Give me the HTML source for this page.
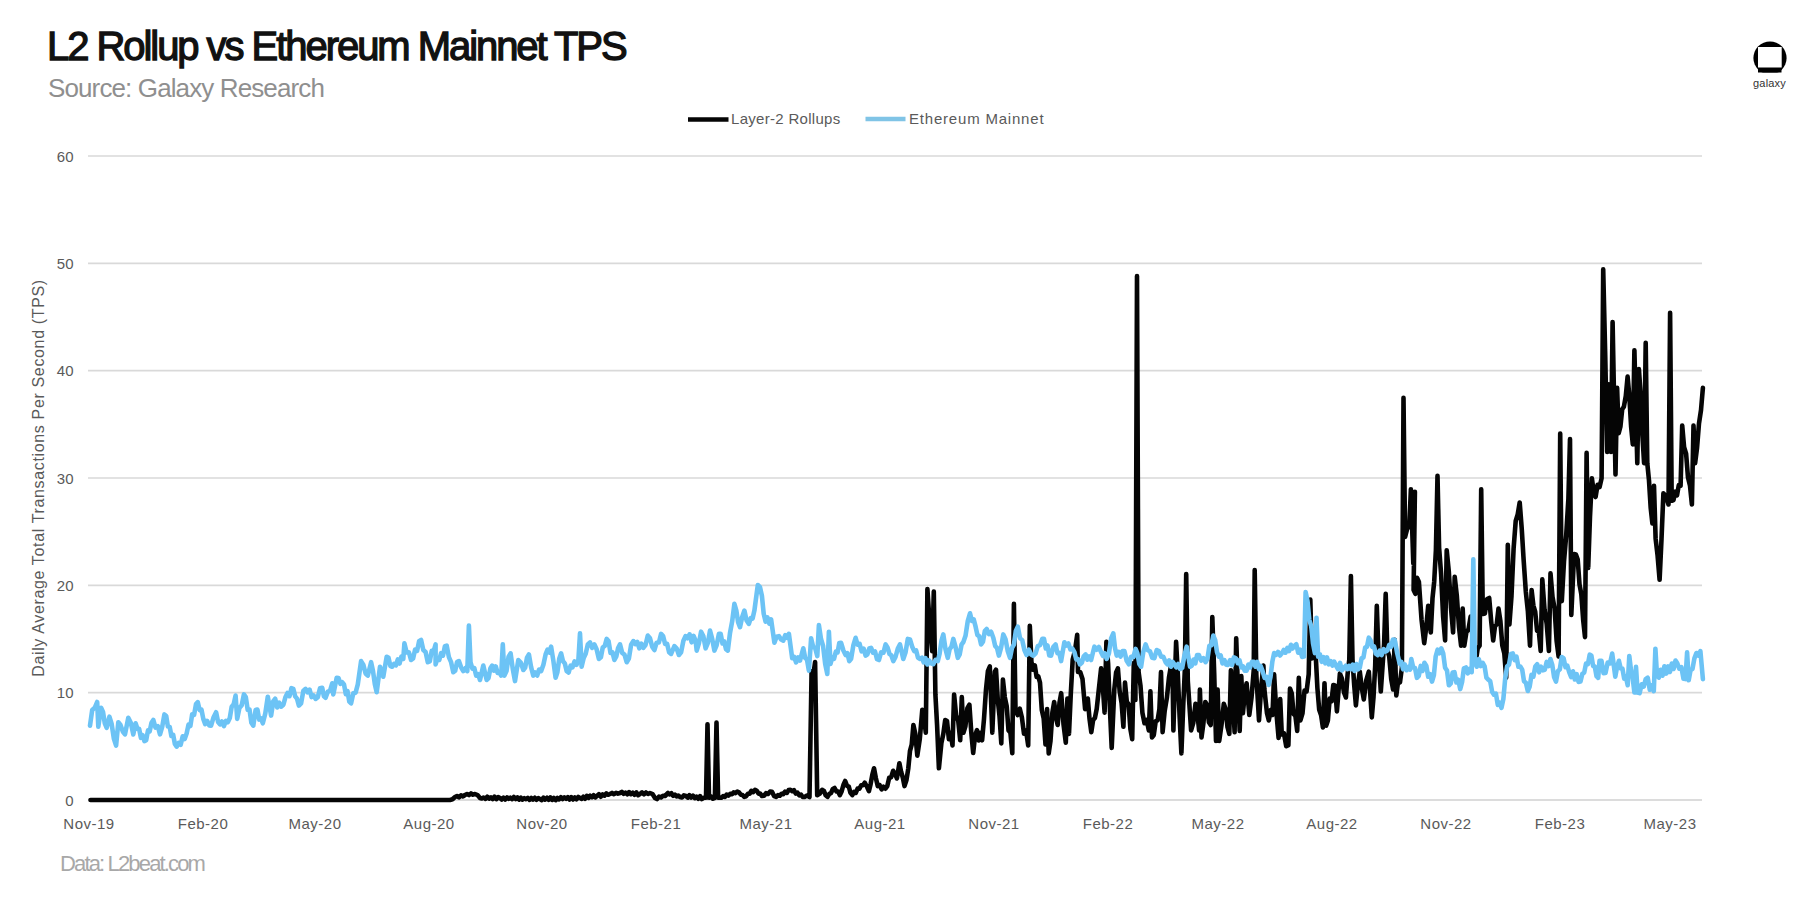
<!DOCTYPE html>
<html><head><meta charset="utf-8">
<style>
html,body{margin:0;padding:0;background:#fff;}
body{width:1800px;height:904px;position:relative;overflow:hidden;font-family:"Liberation Sans",sans-serif;}
#wrap{position:absolute;left:0;top:0;width:1800px;height:904px;}
.t{position:absolute;white-space:nowrap;}
#title{left:47px;top:24px;font-size:40px;font-weight:normal;color:#111;-webkit-text-stroke:1.3px #111;letter-spacing:-2.05px;}
#sub{left:48px;top:73px;font-size:26px;color:#8f8f8f;letter-spacing:-0.88px;}
#data{left:60px;top:851px;font-size:22px;color:#a8a8a8;letter-spacing:-1.85px;}
svg{position:absolute;left:0;top:0;}
</style></head><body><div id="wrap">
<svg width="1800" height="904" viewBox="0 0 1800 904">
<g><line x1="88" y1="692.7" x2="1702" y2="692.7" stroke="#d9d9d9" stroke-width="1.7"/><line x1="88" y1="585.3" x2="1702" y2="585.3" stroke="#d9d9d9" stroke-width="1.7"/><line x1="88" y1="478.0" x2="1702" y2="478.0" stroke="#d9d9d9" stroke-width="1.7"/><line x1="88" y1="370.7" x2="1702" y2="370.7" stroke="#d9d9d9" stroke-width="1.7"/><line x1="88" y1="263.3" x2="1702" y2="263.3" stroke="#d9d9d9" stroke-width="1.7"/><line x1="88" y1="156.0" x2="1702" y2="156.0" stroke="#d9d9d9" stroke-width="1.7"/></g>
<line x1="88" y1="800" x2="1702" y2="800" stroke="#d0d0d0" stroke-width="1.6"/>
<path d="M90.5,800.0 L450.0,800.0 L452.5,799.3 L455.0,797.0 L457.0,796.0 L459.0,797.3 L461.0,795.3 L463.0,796.4 L465.0,795.0 L467.0,794.0 L469.0,795.1 L471.0,793.4 L473.0,794.7 L475.0,794.0 L477.5,795.1 L480.0,798.0 L481.8,798.5 L483.6,797.5 L485.5,798.9 L487.3,796.7 L489.1,798.6 L490.9,797.3 L492.7,799.1 L494.5,796.6 L496.4,799.1 L498.2,797.1 L500.0,798.0 L501.7,799.5 L503.5,797.6 L505.2,799.5 L507.0,797.4 L508.7,798.8 L510.4,797.7 L512.2,799.1 L513.9,797.0 L515.7,799.0 L517.4,797.4 L519.1,799.6 L520.9,797.7 L522.6,799.6 L524.3,798.1 L526.1,799.2 L527.8,798.0 L529.6,799.9 L531.3,797.9 L533.0,799.6 L534.8,797.8 L536.5,799.8 L538.3,798.2 L540.0,799.0 L541.7,800.2 L543.5,797.7 L545.2,799.6 L547.0,797.8 L548.7,799.8 L550.4,797.4 L552.2,799.9 L553.9,797.9 L555.7,800.1 L557.4,798.0 L559.1,799.4 L560.9,797.2 L562.6,799.0 L564.3,797.4 L566.1,798.8 L567.8,797.2 L569.6,799.5 L571.3,797.2 L573.0,799.5 L574.8,797.4 L576.5,799.3 L578.3,797.0 L580.0,798.0 L581.7,798.9 L583.4,796.7 L585.1,798.7 L586.8,795.8 L588.5,797.9 L590.2,795.7 L591.9,797.1 L593.6,795.2 L595.3,797.3 L597.0,796.0 L598.9,794.2 L600.7,796.7 L602.6,794.4 L604.4,795.7 L606.3,793.4 L608.1,794.8 L610.0,794.0 L612.0,792.9 L614.0,794.2 L616.0,792.8 L618.0,793.7 L620.0,793.0 L621.8,791.8 L623.6,793.8 L625.5,792.6 L627.3,794.2 L629.1,792.1 L630.9,794.1 L632.7,792.7 L634.5,794.8 L636.4,792.4 L638.2,795.2 L640.0,794.0 L642.0,792.4 L644.0,794.3 L646.0,792.5 L648.0,794.0 L650.0,793.0 L652.5,794.1 L655.0,798.0 L657.0,799.1 L659.0,796.6 L661.0,797.4 L663.0,795.7 L665.0,796.0 L668.0,793.0 L669.7,794.3 L671.4,793.2 L673.1,795.8 L674.9,794.6 L676.6,796.3 L678.3,795.5 L680.0,797.0 L682.0,797.5 L683.9,795.3 L685.9,796.0 L687.7,797.6 L689.4,795.2 L691.2,797.5 L693.0,795.6 L694.8,798.1 L696.5,796.6 L698.3,798.7 L700.1,796.2 L701.8,799.0 L703.6,797.8 L706.0,797.8 L707.5,724.3 L709.0,797.8 L711.0,796.5 L712.9,798.7 L714.9,797.8 L716.5,722.6 L718.1,797.8 L721.3,797.8 L723.1,796.2 L724.9,797.0 L726.6,794.6 L728.4,795.6 L730.2,793.8 L732.0,794.3 L733.7,792.4 L735.5,793.1 L737.3,791.6 L739.0,792.4 L740.8,794.7 L742.5,795.0 L744.3,796.9 L746.1,796.3 L747.9,793.7 L749.6,793.8 L751.4,790.8 L753.2,792.1 L755.0,789.8 L756.8,790.7 L758.5,793.6 L760.2,793.6 L762.0,796.0 L764.0,795.7 L766.0,793.2 L768.0,794.0 L770.0,791.6 L772.1,791.9 L774.1,796.1 L776.2,796.9 L778.0,795.1 L779.8,795.7 L781.5,793.7 L783.3,794.2 L785.1,791.7 L786.9,792.9 L788.6,790.1 L790.4,789.8 L792.2,791.2 L793.9,790.1 L795.7,793.5 L797.5,792.7 L799.2,795.3 L801.0,794.6 L802.7,797.0 L804.5,796.9 L807.0,795.5 L809.5,797.0 L811.6,671.2 L813.3,675.0 L815.1,662.0 L817.2,795.1 L819.7,793.8 L822.2,789.8 L824.0,791.0 L825.7,795.3 L827.5,796.9 L829.3,793.8 L831.0,793.1 L832.8,789.0 L834.6,788.0 L836.4,791.4 L838.1,791.5 L839.9,795.1 L841.7,791.2 L843.4,785.0 L845.2,781.0 L847.0,785.8 L848.8,786.6 L850.5,792.9 L852.3,795.1 L854.1,792.0 L855.8,792.9 L857.6,788.6 L859.4,788.7 L861.2,785.2 L862.9,785.3 L864.7,782.7 L866.8,786.3 L868.9,791.2 L870.6,784.2 L872.3,774.9 L874.0,768.3 L875.9,778.2 L877.8,786.1 L879.7,785.2 L881.6,789.3 L883.5,786.8 L885.4,788.7 L887.3,786.1 L889.2,777.8 L891.2,777.2 L893.1,770.8 L895.0,773.5 L896.9,778.5 L899.4,763.2 L901.1,771.7 L902.8,777.5 L904.5,786.1 L906.4,780.3 L908.3,768.3 L910.0,750.8 L911.7,744.6 L913.4,725.0 L915.3,733.8 L917.3,755.6 L919.8,738.9 L922.3,709.8 L924.0,716.8 L925.8,732.7 L927.4,589.0 L929.8,625.4 L932.2,651.2 L933.8,591.5 L935.4,694.5 L937.1,725.4 L938.9,768.3 L941.4,742.9 L943.3,734.0 L945.2,720.0 L947.0,721.0 L948.9,739.3 L950.7,733.1 L952.5,745.4 L954.1,694.5 L956.1,715.5 L958.2,720.6 L960.2,740.3 L961.8,697.0 L963.4,732.7 L965.4,726.3 L967.4,708.1 L969.4,704.7 L971.3,732.6 L973.2,753.0 L975.1,735.5 L977.0,730.1 L978.7,740.4 L980.4,732.9 L982.1,740.3 L984.0,718.9 L986.0,689.4 L987.9,671.2 L989.8,666.5 L992.3,732.7 L994.9,671.6 L996.0,669.7 L997.8,699.9 L999.5,715.9 L1001.3,743.4 L1002.9,679.6 L1004.8,697.1 L1006.7,706.2 L1008.5,730.4 L1010.4,732.5 L1012.3,753.3 L1013.9,603.9 L1015.5,709.5 L1017.6,715.0 L1019.8,708.7 L1021.9,717.5 L1024.0,733.7 L1026.1,730.8 L1028.2,745.4 L1029.8,625.9 L1031.4,661.7 L1033.1,669.7 L1034.8,665.3 L1036.6,677.0 L1038.3,676.3 L1040.0,682.6 L1041.8,710.1 L1043.7,718.6 L1045.5,744.5 L1047.1,709.1 L1048.7,753.4 L1050.5,740.9 L1052.4,712.5 L1054.2,702.0 L1056.0,717.7 L1057.7,725.0 L1059.5,702.7 L1061.2,693.2 L1063.5,724.1 L1065.8,742.7 L1067.4,698.5 L1069.0,733.9 L1070.8,693.6 L1072.7,659.6 L1075.0,650.5 L1077.2,634.8 L1078.0,672.0 L1080.2,672.0 L1082.5,679.0 L1085.1,709.1 L1087.8,698.5 L1089.5,718.6 L1091.3,732.1 L1093.1,720.1 L1094.9,718.0 L1096.7,709.0 L1098.4,693.2 L1101.1,668.4 L1102.8,686.4 L1104.6,712.7 L1106.4,641.9 L1108.1,663.1 L1109.9,708.3 L1111.7,748.0 L1114.3,689.6 L1116.1,672.4 L1117.9,668.4 L1119.7,691.7 L1121.6,703.0 L1123.4,726.8 L1125.0,682.6 L1126.8,701.7 L1128.6,704.4 L1130.4,729.2 L1132.2,739.2 L1133.8,663.1 L1135.4,700.0 L1137.0,276.0 L1138.6,672.0 L1140.5,685.8 L1142.4,712.7 L1144.5,723.2 L1146.7,719.8 L1148.8,730.4 L1150.4,691.4 L1152.0,737.4 L1153.8,735.0 L1155.7,721.1 L1157.6,720.4 L1159.4,709.1 L1161.0,672.0 L1162.6,732.1 L1164.7,710.8 L1166.9,697.7 L1169.0,677.3 L1170.8,666.8 L1172.5,668.4 L1173.4,730.4 L1176.1,641.9 L1177.8,673.7 L1179.6,716.5 L1181.4,753.4 L1183.2,706.5 L1184.9,668.4 L1186.2,574.0 L1187.8,680.8 L1191.1,730.4 L1193.3,722.8 L1195.5,703.8 L1197.3,712.3 L1199.1,730.4 L1199.9,689.6 L1201.5,737.4 L1203.4,723.4 L1205.3,702.0 L1207.1,705.0 L1208.9,722.2 L1210.7,725.0 L1212.3,617.0 L1214.2,673.1 L1216.0,741.0 L1217.6,689.6 L1219.2,741.0 L1221.5,725.0 L1223.8,703.8 L1225.6,709.0 L1227.5,727.2 L1229.3,733.9 L1230.9,670.2 L1232.8,697.7 L1234.6,732.1 L1236.2,638.3 L1238.0,690.5 L1239.7,731.0 L1241.3,676.1 L1242.9,713.3 L1244.8,693.7 L1246.6,683.2 L1249.3,715.0 L1251.5,697.8 L1253.7,670.8 L1254.7,570.0 L1256.3,674.3 L1259.0,720.4 L1261.2,687.1 L1263.4,665.5 L1264.3,688.5 L1267.0,713.3 L1268.8,720.4 L1270.7,710.2 L1272.5,715.0 L1274.1,674.3 L1276.3,711.3 L1278.6,738.0 L1280.2,699.1 L1281.8,734.5 L1284.0,733.5 L1286.2,746.2 L1288.4,745.1 L1290.0,688.5 L1291.8,693.6 L1293.6,714.1 L1295.4,715.7 L1297.2,731.0 L1298.8,677.9 L1300.4,720.4 L1302.5,713.3 L1304.5,690.6 L1306.6,691.4 L1308.7,674.3 L1310.3,599.5 L1311.9,658.4 L1313.8,649.4 L1315.6,653.1 L1317.4,688.1 L1319.2,709.7 L1321.1,715.2 L1322.9,727.4 L1324.5,683.2 L1326.1,725.7 L1327.9,720.4 L1329.7,698.6 L1331.5,701.4 L1333.3,685.0 L1334.9,685.5 L1336.9,711.4 L1339.9,673.5 L1341.9,678.7 L1343.9,692.2 L1345.9,697.5 L1347.6,674.3 L1349.3,659.6 L1350.9,576.0 L1352.5,659.6 L1354.2,685.0 L1355.9,705.4 L1357.8,685.2 L1359.8,671.6 L1361.8,688.0 L1363.8,699.4 L1366.3,680.1 L1368.8,671.6 L1371.8,717.4 L1373.5,697.4 L1375.2,665.6 L1376.8,605.8 L1378.4,651.6 L1380.8,691.5 L1384.1,643.7 L1385.7,593.9 L1387.3,649.6 L1389.2,656.4 L1391.2,679.1 L1393.1,689.5 L1394.7,639.7 L1396.3,695.5 L1398.2,680.6 L1400.0,682.2 L1401.9,667.6 L1403.5,397.7 L1405.1,537.0 L1407.2,528.8 L1409.3,526.3 L1410.9,489.2 L1413.3,563.5 L1414.9,491.8 L1413.6,590.0 L1415.4,593.8 L1417.1,577.8 L1418.9,582.0 L1421.5,619.2 L1424.2,643.1 L1426.2,627.7 L1428.2,605.9 L1430.8,632.5 L1432.5,598.3 L1434.2,581.7 L1435.9,550.2 L1437.5,475.9 L1439.1,547.6 L1441.1,574.0 L1443.1,616.4 L1445.1,640.4 L1446.7,550.2 L1448.8,571.5 L1451.0,608.0 L1453.1,632.5 L1454.7,576.7 L1456.8,595.5 L1459.0,627.3 L1461.1,645.7 L1462.7,608.6 L1464.3,645.7 L1466.4,632.2 L1468.5,629.3 L1470.6,616.5 L1472.3,634.6 L1474.0,660.0 L1475.9,660.9 L1477.7,648.3 L1479.6,645.7 L1481.2,489.2 L1482.8,613.9 L1484.9,613.4 L1487.1,599.0 L1489.2,598.0 L1491.2,621.4 L1493.2,640.4 L1495.0,626.1 L1496.7,624.4 L1498.5,608.6 L1500.4,621.2 L1502.3,645.5 L1504.3,653.4 L1506.2,677.6 L1507.8,544.9 L1509.4,624.5 L1511.5,596.0 L1513.6,548.6 L1515.7,521.0 L1517.7,514.4 L1519.7,502.5 L1521.7,528.2 L1523.7,560.8 L1525.8,591.4 L1527.9,611.5 L1530.0,645.7 L1531.6,590.0 L1533.4,605.6 L1535.2,611.7 L1537.1,630.8 L1538.9,632.2 L1540.7,651.0 L1542.3,579.4 L1544.5,609.4 L1546.7,623.8 L1548.9,651.0 L1550.5,573.4 L1552.5,597.0 L1554.6,608.3 L1556.6,640.6 L1558.6,656.5 L1560.2,433.5 L1561.8,601.1 L1564.0,561.4 L1566.2,535.3 L1568.4,498.6 L1570.0,439.1 L1571.3,615.0 L1574.1,554.0 L1575.9,554.4 L1577.7,559.6 L1579.5,584.4 L1581.3,594.2 L1583.2,620.2 L1585.0,637.1 L1586.6,452.9 L1588.2,567.9 L1590.0,516.4 L1591.9,478.2 L1593.8,492.8 L1595.6,497.0 L1597.6,484.7 L1599.6,487.0 L1601.6,478.2 L1603.2,269.4 L1605.2,354.4 L1607.2,451.9 L1608.8,384.2 L1611.0,451.9 L1612.6,322.1 L1615.5,474.5 L1617.1,387.9 L1618.7,433.1 L1620.4,426.7 L1622.2,409.2 L1623.9,406.7 L1625.8,396.0 L1627.6,376.6 L1629.3,395.4 L1631.1,426.6 L1632.8,444.4 L1634.4,350.3 L1637.3,463.2 L1638.9,369.1 L1640.6,393.8 L1642.4,435.2 L1644.1,463.2 L1645.7,342.8 L1647.3,463.2 L1649.0,480.5 L1650.7,508.0 L1652.4,523.4 L1654.0,485.7 L1655.6,538.4 L1657.6,555.8 L1659.6,579.8 L1661.5,539.2 L1663.4,493.3 L1666.0,496.0 L1668.5,504.5 L1670.1,312.7 L1671.7,500.8 L1673.5,500.1 L1675.3,491.7 L1677.0,495.4 L1678.8,485.1 L1680.6,485.7 L1682.2,425.5 L1684.1,447.1 L1686.1,453.6 L1688.0,477.5 L1690.0,485.7 L1691.9,504.5 L1693.5,425.5 L1695.1,463.2 L1697.0,448.2 L1699.0,423.4 L1701.0,410.1 L1702.9,387.9" fill="none" stroke="#050505" stroke-width="4.6" stroke-linejoin="round" stroke-linecap="round"/>
<path d="M90.0,725.6 L92.2,710.0 L94.7,707.8 L97.2,702.0 L98.3,726.7 L101.1,707.8 L103.0,711.9 L104.8,723.3 L106.7,727.8 L109.4,716.7 L111.6,723.6 L113.9,738.8 L116.1,745.6 L118.3,722.2 L120.5,725.0 L122.8,731.5 L125.0,734.4 L128.3,717.8 L130.8,722.7 L133.3,734.4 L135.6,723.3 L137.4,728.7 L139.1,728.7 L140.9,737.8 L142.6,735.1 L144.4,741.1 L146.2,740.2 L148.0,730.3 L149.7,731.3 L151.5,722.7 L153.3,720.0 L155.5,727.6 L157.8,726.2 L160.0,734.4 L162.2,726.9 L164.4,714.4 L166.2,715.9 L167.9,726.6 L169.7,726.9 L171.4,736.0 L173.2,734.8 L174.9,744.0 L176.7,746.7 L178.7,742.8 L180.7,744.8 L182.7,736.3 L184.7,739.0 L186.7,733.3 L188.5,724.6 L190.4,726.0 L192.2,714.2 L194.1,714.8 L196.0,704.1 L197.8,702.2 L199.6,710.1 L201.5,709.7 L203.3,718.9 L205.2,724.1 L207.2,720.9 L209.2,725.4 L211.1,725.6 L213.6,717.2 L216.1,712.2 L218.1,722.0 L220.0,724.4 L221.9,721.5 L223.9,726.1 L225.9,720.8 L227.8,722.2 L229.8,718.0 L231.7,706.7 L233.7,704.3 L235.6,695.6 L237.2,718.9 L239.4,708.0 L241.7,705.3 L243.9,694.4 L245.8,697.1 L247.7,709.8 L249.5,709.5 L251.4,722.8 L253.3,725.6 L255.6,710.0 L257.4,709.5 L259.2,719.6 L261.0,718.4 L262.8,723.3 L265.3,713.4 L267.8,696.7 L271.1,715.6 L273.3,701.1 L275.2,698.8 L277.2,707.4 L279.2,702.6 L281.1,706.7 L283.4,704.7 L285.6,696.7 L287.5,693.0 L289.5,696.2 L291.4,688.2 L293.3,688.9 L295.2,696.4 L297.0,698.7 L298.9,705.6 L301.1,703.4 L303.4,690.7 L305.6,688.9 L307.6,692.3 L309.6,689.6 L311.6,697.1 L313.6,695.4 L315.6,698.9 L317.8,697.1 L320.0,688.3 L322.2,687.8 L323.9,696.3 L325.6,697.8 L327.8,691.7 L330.0,690.9 L332.2,683.3 L333.3,694.4 L336.7,677.8 L338.5,678.0 L340.4,683.8 L342.2,682.2 L344.0,684.4 L345.8,694.1 L347.5,691.1 L349.3,701.6 L351.1,703.3 L353.3,693.2 L355.6,692.7 L357.8,684.4 L361.1,661.1 L363.3,664.6 L365.6,673.5 L367.8,675.6 L371.1,662.2 L373.0,671.0 L374.8,683.9 L376.7,692.2 L380.0,666.7 L383.3,676.7 L386.7,656.7 L388.5,657.8 L390.4,666.1 L392.2,666.7 L394.1,663.8 L395.9,665.4 L397.8,659.4 L399.6,663.5 L401.4,656.5 L403.3,658.9 L404.4,643.3 L406.6,652.4 L408.9,652.3 L411.1,660.0 L413.1,658.4 L415.1,649.5 L417.1,650.9 L419.1,641.3 L421.1,640.0 L423.3,650.0 L425.6,652.0 L427.8,662.2 L429.8,661.4 L431.7,650.8 L433.7,651.1 L435.6,644.4 L435.6,664.4 L437.5,658.2 L439.3,659.9 L441.1,653.1 L443.0,655.6 L444.9,646.2 L446.7,645.6 L448.9,657.1 L451.1,662.2 L453.3,672.2 L455.2,670.7 L457.0,662.1 L458.9,661.1 L461.1,667.3 L463.3,671.1 L465.3,668.3 L467.3,671.1 L468.9,625.6 L470.5,662.2 L472.4,668.6 L474.3,668.0 L476.2,675.7 L478.1,674.1 L480.0,680.0 L483.3,665.6 L486.7,680.0 L488.5,678.1 L490.4,668.3 L492.2,665.6 L494.0,670.6 L495.8,666.5 L497.6,672.8 L499.4,672.3 L501.2,675.6 L502.8,644.4 L504.4,675.6 L506.5,671.1 L508.5,657.0 L510.6,653.3 L512.8,669.0 L515.0,681.1 L518.3,660.0 L520.8,662.6 L523.3,670.0 L525.2,667.5 L527.0,657.6 L528.9,654.4 L531.1,667.1 L533.3,675.6 L535.2,672.5 L537.2,675.5 L539.1,669.5 L541.1,671.1 L543.4,664.7 L545.6,654.4 L547.4,649.7 L549.3,652.5 L551.1,646.7 L553.4,661.0 L555.6,677.8 L557.4,672.3 L559.3,658.4 L561.1,653.3 L563.0,661.2 L564.8,663.4 L566.7,671.1 L568.7,672.5 L570.6,665.6 L572.5,667.2 L574.5,661.4 L576.5,664.8 L578.4,660.0 L580.0,633.3 L581.6,666.7 L583.7,657.9 L585.7,653.8 L587.8,644.4 L590.0,642.4 L592.2,647.8 L594.4,644.4 L596.6,649.3 L598.9,658.9 L600.9,657.3 L602.8,647.3 L604.8,645.9 L606.7,638.9 L608.6,641.3 L610.5,652.9 L612.5,652.4 L614.4,660.0 L616.3,656.5 L618.1,648.1 L620.0,644.4 L622.2,652.9 L624.5,654.6 L626.7,662.2 L628.9,658.5 L631.1,644.8 L633.3,641.1 L635.3,644.1 L637.3,641.9 L639.3,648.4 L641.3,643.6 L643.3,647.8 L645.5,645.0 L647.8,635.6 L650.0,638.3 L652.2,646.7 L654.4,650.0 L656.6,642.7 L658.9,642.5 L661.1,633.9 L663.1,636.0 L665.1,644.0 L667.1,643.7 L669.1,652.2 L671.1,653.9 L674.4,646.1 L676.6,648.3 L678.9,655.0 L681.1,652.3 L683.4,640.8 L685.6,636.1 L687.6,638.2 L689.6,634.3 L691.6,642.3 L693.6,635.9 L695.6,640.6 L696.7,650.6 L698.9,643.4 L701.1,631.7 L703.4,636.3 L705.6,648.3 L707.8,643.1 L710.0,630.6 L712.2,638.9 L714.4,650.6 L716.6,645.4 L718.9,633.9 L720.7,633.9 L722.5,643.5 L724.2,641.4 L726.0,649.2 L727.8,650.6 L730.0,633.0 L732.2,621.2 L734.4,603.9 L736.3,610.3 L738.1,622.1 L740.0,627.2 L742.2,617.0 L744.4,610.6 L746.6,620.5 L748.9,623.9 L750.7,618.2 L752.6,618.6 L754.4,610.6 L757.8,585.0 L760.0,587.2 L761.9,595.7 L763.7,613.8 L765.6,621.7 L767.4,617.4 L769.3,623.7 L771.1,619.4 L774.4,642.8 L776.6,636.8 L778.9,636.1 L781.1,639.5 L783.3,640.6 L785.2,635.2 L787.0,637.7 L788.9,633.9 L792.2,658.3 L794.2,656.9 L796.1,662.4 L798.0,657.5 L800.0,660.6 L803.3,648.3 L805.2,658.0 L807.0,659.5 L808.9,670.6 L811.1,638.3 L813.2,647.0 L815.2,648.1 L817.3,656.1 L818.9,625.0 L821.0,639.0 L823.1,646.0 L825.2,664.1 L827.3,673.9 L828.9,631.7 L830.5,663.9 L832.3,657.2 L834.0,658.9 L835.8,651.7 L837.6,652.4 L839.3,643.0 L841.1,642.8 L843.4,650.5 L845.6,655.0 L847.4,653.1 L849.3,661.2 L851.1,658.9 L853.4,645.1 L855.6,637.8 L857.6,644.7 L859.6,643.8 L861.6,651.3 L863.6,648.6 L865.6,655.6 L867.4,654.3 L869.3,648.5 L871.1,647.8 L873.0,652.7 L875.0,651.4 L877.0,659.2 L878.9,660.0 L881.1,652.4 L883.4,652.8 L885.6,644.4 L887.5,647.4 L889.5,654.0 L891.4,655.4 L893.3,661.1 L895.5,657.0 L897.8,648.6 L900.0,644.4 L903.3,658.9 L905.5,652.6 L907.8,638.9 L910.0,639.4 L912.2,646.7 L914.2,651.1 L916.1,650.3 L918.0,657.8 L920.0,658.9 L921.9,657.7 L923.7,662.4 L925.5,658.2 L927.4,664.5 L929.2,660.5 L931.1,663.3 L933.3,664.2 L935.6,659.8 L937.8,661.1 L939.6,653.7 L941.5,640.7 L943.3,634.4 L945.5,649.1 L947.8,657.8 L949.6,649.3 L951.5,646.6 L953.3,638.9 L955.5,646.7 L957.8,657.8 L959.6,654.7 L961.5,644.7 L963.3,642.2 L965.5,635.8 L967.8,620.8 L970.0,613.3 L971.9,621.0 L973.7,619.4 L975.6,626.7 L977.4,634.9 L979.3,636.4 L981.1,644.4 L983.0,641.7 L984.8,631.1 L986.7,628.9 L988.9,634.1 L991.1,631.8 L993.3,637.8 L995.2,646.1 L997.0,647.9 L998.9,655.6 L1001.1,647.6 L1003.3,634.4 L1005.5,639.2 L1007.8,651.3 L1010.0,657.8 L1012.0,647.8 L1013.9,644.5 L1015.8,631.0 L1017.8,626.7 L1020.0,638.1 L1022.2,640.1 L1024.4,650.0 L1026.6,655.0 L1028.9,649.7 L1031.1,654.4 L1033.3,655.7 L1035.6,653.3 L1037.8,646.1 L1040.0,645.2 L1042.2,638.9 L1044.0,638.9 L1045.8,648.5 L1047.5,645.4 L1049.3,655.5 L1051.1,655.6 L1053.3,647.1 L1055.6,644.4 L1057.4,653.1 L1059.3,652.9 L1061.1,661.1 L1064.4,642.2 L1066.4,645.6 L1068.4,643.5 L1070.4,649.4 L1072.4,648.7 L1074.4,652.2 L1076.3,659.5 L1078.1,659.1 L1080.0,664.4 L1081.9,662.5 L1083.7,656.3 L1085.6,654.4 L1087.4,659.7 L1089.3,656.5 L1091.1,660.0 L1094.4,646.7 L1096.6,649.7 L1098.9,647.0 L1101.1,652.2 L1103.0,655.9 L1104.8,653.3 L1106.7,658.9 L1108.9,653.3 L1111.1,638.5 L1113.3,633.3 L1115.0,648.1 L1116.7,655.6 L1118.6,651.8 L1120.6,656.6 L1122.5,651.0 L1124.4,651.1 L1126.7,660.9 L1128.9,664.4 L1131.1,656.7 L1133.4,657.1 L1135.6,648.9 L1137.4,653.4 L1139.3,663.9 L1141.1,666.7 L1143.3,651.9 L1145.6,644.4 L1147.8,650.2 L1150.0,651.3 L1152.2,657.8 L1154.4,658.2 L1156.7,650.0 L1158.9,651.1 L1161.1,656.6 L1163.4,656.9 L1165.6,662.2 L1167.4,664.4 L1169.1,660.3 L1170.9,666.7 L1172.6,661.8 L1174.4,664.4 L1176.4,667.4 L1178.3,663.9 L1180.2,669.0 L1182.2,667.8 L1184.5,655.0 L1186.7,646.7 L1190.0,666.7 L1191.8,665.7 L1193.6,659.5 L1195.3,663.4 L1197.1,655.1 L1198.9,655.0 L1201.1,660.5 L1203.4,658.2 L1205.6,662.2 L1207.5,658.5 L1209.4,645.7 L1211.4,645.2 L1213.3,635.6 L1215.2,640.1 L1217.0,652.1 L1218.9,656.7 L1220.7,655.5 L1222.5,663.5 L1224.4,660.1 L1226.2,664.7 L1228.0,664.9 L1230.0,660.1 L1232.0,665.2 L1233.9,657.4 L1235.9,658.3 L1236.0,658.4 L1237.8,663.2 L1239.5,660.3 L1241.3,667.5 L1243.0,666.5 L1244.8,670.8 L1246.6,670.7 L1248.4,664.5 L1250.1,667.4 L1251.9,661.9 L1253.7,661.9 L1255.5,666.7 L1257.2,661.8 L1259.0,669.2 L1260.7,666.0 L1262.5,670.8 L1264.6,677.8 L1266.6,676.9 L1268.7,685.0 L1270.5,677.1 L1272.3,661.9 L1274.1,653.1 L1276.1,654.8 L1278.0,651.9 L1280.0,655.5 L1282.0,653.1 L1283.8,649.9 L1285.5,652.7 L1287.3,648.0 L1289.1,651.0 L1290.9,644.8 L1292.6,648.5 L1294.4,646.0 L1296.3,644.3 L1298.2,652.7 L1300.2,649.6 L1302.1,656.9 L1304.0,656.6 L1305.6,592.0 L1307.5,600.9 L1309.3,619.8 L1311.2,626.0 L1313.0,643.3 L1314.9,653.1 L1316.5,617.7 L1318.1,656.6 L1319.9,654.4 L1321.7,661.8 L1323.5,657.1 L1325.3,663.3 L1327.0,657.4 L1328.8,664.3 L1330.6,661.1 L1332.4,665.5 L1334.2,661.6 L1336.0,665.5 L1338.0,669.0 L1340.0,662.9 L1341.9,670.5 L1343.9,667.6 L1345.7,665.8 L1347.4,669.2 L1349.2,665.8 L1351.0,669.2 L1352.7,664.6 L1354.5,671.0 L1356.3,664.1 L1358.0,669.4 L1359.8,667.6 L1361.6,658.2 L1363.4,657.6 L1365.2,647.4 L1367.0,646.8 L1368.8,637.7 L1370.5,640.3 L1372.3,647.0 L1374.0,646.3 L1375.8,653.6 L1377.8,655.1 L1379.8,650.7 L1381.7,655.1 L1383.7,649.1 L1385.7,651.6 L1387.5,650.4 L1389.3,644.8 L1391.1,646.8 L1392.9,639.6 L1394.7,639.7 L1397.2,653.3 L1399.7,663.6 L1401.4,661.9 L1403.1,669.3 L1404.8,664.4 L1406.6,670.2 L1408.3,667.1 L1410.0,669.6 L1411.3,659.0 L1413.2,667.6 L1415.0,667.9 L1416.9,677.8 L1418.8,675.9 L1420.7,665.9 L1422.5,671.0 L1424.4,662.8 L1426.3,665.7 L1428.2,676.8 L1430.1,674.2 L1432.0,681.6 L1433.9,675.0 L1435.7,656.3 L1437.6,649.6 L1439.5,653.3 L1441.3,648.4 L1443.2,653.4 L1445.1,667.7 L1447.0,670.5 L1448.9,685.3 L1450.8,683.3 L1452.6,672.6 L1454.5,672.2 L1456.4,682.5 L1458.3,679.8 L1460.2,689.1 L1462.1,682.0 L1463.9,668.4 L1465.9,667.5 L1467.8,673.4 L1469.8,668.6 L1471.7,672.2 L1473.3,559.4 L1474.9,662.8 L1476.8,666.7 L1478.8,659.1 L1480.8,666.1 L1482.7,662.8 L1484.6,666.4 L1486.4,677.7 L1488.3,679.7 L1490.2,681.1 L1492.1,691.7 L1494.0,694.7 L1495.9,693.6 L1497.8,704.9 L1499.6,702.7 L1501.5,707.9 L1503.4,698.7 L1505.2,678.4 L1507.1,666.5 L1509.0,664.7 L1510.9,653.9 L1512.8,653.4 L1514.7,660.1 L1516.5,656.6 L1518.4,666.8 L1520.3,666.5 L1522.2,669.6 L1524.0,681.2 L1525.9,682.8 L1527.8,691.0 L1529.7,686.5 L1531.5,674.9 L1533.4,676.6 L1535.3,666.5 L1537.2,664.2 L1539.1,672.3 L1541.0,666.7 L1542.9,670.3 L1544.8,669.8 L1546.7,661.9 L1548.5,666.2 L1550.4,659.0 L1552.3,665.0 L1554.1,677.2 L1556.0,681.6 L1557.9,671.2 L1559.8,669.3 L1561.7,657.1 L1563.6,658.2 L1565.5,667.2 L1567.3,665.6 L1569.2,672.2 L1571.1,677.0 L1573.0,671.3 L1574.8,679.5 L1576.7,674.2 L1578.6,681.9 L1580.5,681.6 L1582.3,673.9 L1584.2,672.6 L1586.0,663.6 L1587.9,664.1 L1589.7,654.7 L1591.4,655.5 L1593.1,666.0 L1594.8,666.5 L1596.5,676.1 L1598.2,677.9 L1599.5,660.8 L1601.5,660.9 L1603.5,673.1 L1605.5,673.0 L1607.7,662.5 L1610.0,663.4 L1612.2,653.5 L1615.3,676.6 L1617.1,666.8 L1618.9,660.8 L1620.7,668.5 L1622.4,668.5 L1624.2,678.7 L1625.9,677.0 L1627.7,685.2 L1629.3,656.0 L1631.0,670.3 L1632.7,678.1 L1634.4,692.5 L1636.0,666.9 L1637.6,692.5 L1639.6,693.2 L1641.7,684.3 L1643.7,686.6 L1645.7,679.1 L1647.7,677.7 L1649.8,689.8 L1651.8,685.4 L1653.8,691.2 L1655.4,648.7 L1657.0,675.4 L1658.8,677.6 L1660.7,669.8 L1662.5,675.7 L1664.4,666.3 L1666.2,673.6 L1668.1,666.4 L1669.9,672.0 L1671.8,663.5 L1673.6,669.0 L1675.5,660.5 L1677.3,663.3 L1679.3,668.7 L1681.4,667.2 L1683.5,678.8 L1685.5,679.1 L1687.1,652.3 L1688.7,680.3 L1690.6,669.9 L1692.5,668.9 L1694.4,658.4 L1696.4,653.0 L1698.4,655.6 L1700.4,651.1 L1702.9,679.1" fill="none" stroke="#6cc3f5" stroke-width="4.6" stroke-linejoin="round" stroke-linecap="round"/>
<g font-family="Liberation Sans, sans-serif" font-size="15px" fill="#5a5a5a"><text x="73.5" y="805.5" text-anchor="end">0</text><text x="73.5" y="698.2" text-anchor="end">10</text><text x="73.5" y="590.8" text-anchor="end">20</text><text x="73.5" y="483.5" text-anchor="end">30</text><text x="73.5" y="376.2" text-anchor="end">40</text><text x="73.5" y="268.8" text-anchor="end">50</text><text x="73.5" y="161.5" text-anchor="end">60</text></g>
<g font-family="Liberation Sans, sans-serif" font-size="15px" letter-spacing="0.5" fill="#5a5a5a"><text x="89" y="828.5" text-anchor="middle">Nov-19</text><text x="203" y="828.5" text-anchor="middle">Feb-20</text><text x="315" y="828.5" text-anchor="middle">May-20</text><text x="429" y="828.5" text-anchor="middle">Aug-20</text><text x="542" y="828.5" text-anchor="middle">Nov-20</text><text x="656" y="828.5" text-anchor="middle">Feb-21</text><text x="766" y="828.5" text-anchor="middle">May-21</text><text x="880" y="828.5" text-anchor="middle">Aug-21</text><text x="994" y="828.5" text-anchor="middle">Nov-21</text><text x="1108" y="828.5" text-anchor="middle">Feb-22</text><text x="1218" y="828.5" text-anchor="middle">May-22</text><text x="1332" y="828.5" text-anchor="middle">Aug-22</text><text x="1446" y="828.5" text-anchor="middle">Nov-22</text><text x="1560" y="828.5" text-anchor="middle">Feb-23</text><text x="1670" y="828.5" text-anchor="middle">May-23</text></g>
<text transform="translate(43.5,478) rotate(-90)" text-anchor="middle" font-family="Liberation Sans, sans-serif" font-size="16px" letter-spacing="0.65" fill="#5a5a5a">Daily Average Total Transactions Per Second (TPS)</text>
<g>
<line x1="688" y1="119.5" x2="728.5" y2="119.5" stroke="#050505" stroke-width="4.5"/>
<text x="731" y="124" font-family="Liberation Sans, sans-serif" font-size="15px" letter-spacing="0.3" fill="#5a5a5a">Layer-2 Rollups</text>
<line x1="865.5" y1="119" x2="905.5" y2="119" stroke="#80c4e6" stroke-width="4.5"/>
<text x="909" y="124" font-family="Liberation Sans, sans-serif" font-size="15px" letter-spacing="0.8" fill="#5a5a5a">Ethereum Mainnet</text>
</g>
<g>
<clipPath id="lc"><rect x="1740" y="30" width="60" height="42.5"/></clipPath>
<circle cx="1770" cy="58" r="16.6" fill="#000" clip-path="url(#lc)"/>
<rect x="1758" y="67.5" width="23.5" height="5" fill="#000"/>
<rect x="1758" y="47" width="23.7" height="20.5" fill="#fff"/>
<text x="1769.5" y="86.7" text-anchor="middle" font-family="Liberation Sans, sans-serif" font-size="11px" fill="#333" letter-spacing="0.2">galaxy</text>
</g>
</svg>
<div class="t" id="title">L2 Rollup vs Ethereum Mainnet TPS</div>
<div class="t" id="sub">Source: Galaxy Research</div>
<div class="t" id="data">Data: L2beat.com</div>
</div></body></html>
